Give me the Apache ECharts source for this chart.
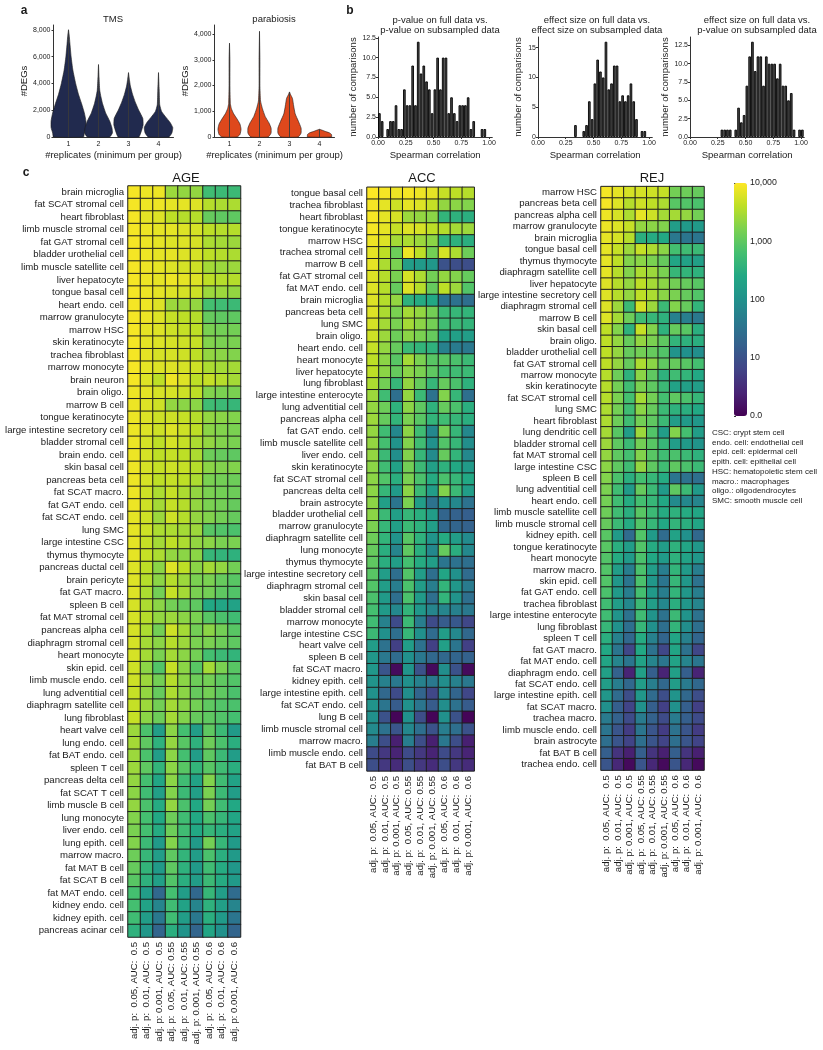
<!DOCTYPE html>
<html>
<head>
<meta charset="utf-8">
<script src="https://cdn.jsdelivr.net/npm/echarts@6/dist/echarts.min.js"></script>
<style>
html, body { margin: 0; padding: 0; background: #fff; }
#chart { width: 823px; height: 1050px; }
</style>
</head>
<body>
<div id="chart"></div>
<script>
// ---- panel a: violins, outline as [#DEGs, relative half-width] ----
const replicates = ['1', '2', '3', '4'];
const tmsViolins = [
  [[0, 0.86], [300, 0.91], [700, 1], [1200, 1], [1800, 0.91], [2500, 0.75], [3200, 0.57], [4000, 0.41], [5000, 0.25], [6000, 0.15], [7000, 0.08], [7600, 0.04], [8000, 0]],
  [[0, 0.64], [300, 0.8], [700, 0.77], [1200, 0.64], [1800, 0.41], [2500, 0.23], [3000, 0.14], [3500, 0.07], [4500, 0.03], [5400, 0]],
  [[0, 0.59], [400, 0.73], [900, 0.84], [1400, 0.82], [2000, 0.59], [2600, 0.39], [3200, 0.23], [3800, 0.11], [4300, 0.05], [4800, 0]],
  [[0, 0.59], [300, 0.77], [700, 0.82], [1100, 0.66], [1500, 0.41], [1900, 0.18], [2400, 0.07], [3500, 0.04], [4800, 0]]
];
const parabiosisViolins = [
  [[0, 0.36], [100, 0.5], [300, 0.55], [500, 0.5], [700, 0.36], [900, 0.2], [1100, 0.09], [1300, 0.04], [2000, 0.02], [3000, 0.02], [3640, 0]],
  [[0, 0.41], [150, 0.55], [350, 0.55], [550, 0.45], [800, 0.27], [1100, 0.14], [1400, 0.05], [2000, 0.02], [3000, 0.02], [4100, 0]],
  [[0, 0.41], [150, 0.55], [350, 0.55], [600, 0.43], [900, 0.27], [1200, 0.2], [1500, 0.14], [1650, 0.05], [1750, 0]],
  [[0, 0.57], [100, 0.57], [160, 0.48], [210, 0.3], [260, 0.14], [300, 0]]
];

// ---- panel b: histogram counts, bins of 0.025 starting at 0 ----
const binWidth = 0.025;
const pvalPvalCounts = [3, 2, 0, 1, 2, 2, 4, 1, 1, 6, 4, 4, 9, 4, 12, 8, 9, 7, 6, 3, 6, 10, 6, 10, 10, 3, 5, 3, 2, 4, 4, 4, 5, 1, 2, 0, 0, 1, 1, 0, 0];
const effEffCounts = [0, 0, 0, 0, 0, 0, 0, 0, 0, 0, 0, 0, 0, 2, 0, 0, 1, 2, 6, 3, 9, 13, 11, 10, 16, 8, 9, 12, 12, 6, 7, 6, 7, 9, 6, 3, 0, 1, 1, 0, 0];
const effPvalCounts = [0, 0, 0, 0, 0, 0, 0, 0, 0, 0, 0, 1, 1, 1, 1, 0, 1, 4, 2, 3, 7, 11, 13, 9, 11, 11, 7, 11, 10, 10, 10, 8, 10, 7, 7, 5, 6, 1, 0, 1, 1];
const corrTicks = ['0.00', '0.25', '0.50', '0.75', '1.00'];

// ---- panel c: heatmaps, values are log10(#DEGs) ----
const pValues = ['0.05', '0.01', '0.001'];
const aucValues = ['0.5', '0.55', '0.6'];
const colorbarLabels = ['0.0', '10', '100', '1,000', '10,000'];

const ageCells = ['brain microglia', 'fat SCAT stromal cell', 'heart fibroblast', 'limb muscle stromal cell', 'fat GAT stromal cell', 'bladder urothelial cell', 'limb muscle satellite cell', 'liver hepatocyte', 'tongue basal cell', 'heart endo. cell', 'marrow granulocyte', 'marrow HSC', 'skin keratinocyte', 'trachea fibroblast', 'marrow monocyte', 'brain neuron', 'brain oligo.', 'marrow B cell', 'tongue keratinocyte', 'large intestine secretory cell', 'bladder stromal cell', 'brain endo. cell', 'skin basal cell', 'pancreas beta cell', 'fat SCAT macro.', 'fat GAT endo. cell', 'fat SCAT endo. cell', 'lung SMC', 'large intestine CSC', 'thymus thymocyte', 'pancreas ductal cell', 'brain pericyte', 'fat GAT macro.', 'spleen B cell', 'fat MAT stromal cell', 'pancreas alpha cell', 'diaphragm stromal cell', 'heart monocyte', 'skin epid. cell', 'limb muscle endo. cell', 'lung adventitial cell', 'diaphragm satellite cell', 'lung fibroblast', 'heart valve cell', 'lung endo. cell', 'fat BAT endo. cell', 'spleen T cell', 'pancreas delta cell', 'fat SCAT T cell', 'limb muscle B cell', 'lung monocyte', 'liver endo. cell', 'lung epith. cell', 'marrow macro.', 'fat MAT B cell', 'fat SCAT B cell', 'fat MAT endo. cell', 'kidney endo. cell', 'kidney epith. cell', 'pancreas acinar cell'];
const ageLog = [
  [3.95, 3.9, 3.9, 3.4, 3.35, 3.35, 2.75, 2.7, 2.7],
  [3.95, 3.9, 3.9, 3.85, 3.85, 3.8, 3.55, 3.5, 3.5],
  [3.95, 3.85, 3.8, 3.6, 3.55, 3.55, 3.05, 3.0, 3.0],
  [3.95, 3.9, 3.85, 3.85, 3.8, 3.75, 3.6, 3.55, 3.55],
  [3.95, 3.9, 3.85, 3.8, 3.8, 3.75, 3.5, 3.45, 3.4],
  [3.95, 3.9, 3.85, 3.85, 3.8, 3.75, 3.6, 3.55, 3.5],
  [3.95, 3.9, 3.85, 3.8, 3.75, 3.7, 3.45, 3.4, 3.4],
  [3.95, 3.9, 3.85, 3.9, 3.85, 3.8, 3.6, 3.55, 3.55],
  [3.95, 3.9, 3.85, 3.8, 3.75, 3.7, 3.4, 3.4, 3.35],
  [3.95, 3.9, 3.8, 3.4, 3.4, 3.35, 2.8, 2.75, 2.7],
  [3.95, 3.9, 3.8, 3.65, 3.6, 3.55, 3.05, 3.0, 3.0],
  [3.95, 3.85, 3.8, 3.7, 3.65, 3.6, 3.2, 3.15, 3.15],
  [3.95, 3.85, 3.8, 3.75, 3.7, 3.65, 3.25, 3.2, 3.2],
  [3.95, 3.85, 3.75, 3.75, 3.7, 3.6, 3.35, 3.3, 3.25],
  [3.95, 3.85, 3.8, 3.8, 3.75, 3.7, 3.5, 3.45, 3.45],
  [3.95, 3.8, 3.6, 3.9, 3.8, 3.6, 3.65, 3.55, 3.45],
  [3.9, 3.85, 3.75, 3.75, 3.7, 3.6, 3.25, 3.2, 3.2],
  [3.9, 3.8, 3.7, 3.35, 3.3, 3.3, 2.75, 2.7, 2.65],
  [3.9, 3.8, 3.7, 3.7, 3.65, 3.55, 3.35, 3.3, 3.25],
  [3.9, 3.8, 3.7, 3.8, 3.7, 3.6, 3.3, 3.25, 3.2],
  [3.9, 3.75, 3.6, 3.75, 3.65, 3.5, 3.35, 3.25, 3.2],
  [3.9, 3.75, 3.6, 3.65, 3.6, 3.5, 3.1, 3.05, 3.0],
  [3.9, 3.75, 3.65, 3.7, 3.65, 3.55, 3.3, 3.25, 3.25],
  [3.9, 3.75, 3.6, 3.65, 3.6, 3.5, 3.2, 3.15, 3.1],
  [3.9, 3.7, 3.5, 3.65, 3.5, 3.35, 3.2, 3.15, 3.1],
  [3.9, 3.7, 3.45, 3.65, 3.55, 3.35, 3.2, 3.15, 3.05],
  [3.85, 3.7, 3.4, 3.7, 3.55, 3.35, 3.25, 3.15, 3.05],
  [3.85, 3.7, 3.5, 3.5, 3.45, 3.4, 2.95, 2.9, 2.85],
  [3.85, 3.65, 3.45, 3.6, 3.5, 3.35, 3.3, 3.2, 3.2],
  [3.85, 3.65, 3.5, 3.35, 3.3, 3.3, 2.65, 2.6, 2.55],
  [3.8, 3.6, 3.3, 3.8, 3.6, 3.3, 3.45, 3.35, 3.15],
  [3.8, 3.55, 3.3, 3.55, 3.4, 3.2, 3.2, 3.05, 2.95],
  [3.8, 3.5, 3.15, 3.65, 3.45, 3.2, 3.15, 3.0, 2.9],
  [3.75, 3.5, 3.3, 3.15, 3.05, 3.0, 2.4, 2.35, 2.3],
  [3.75, 3.55, 3.35, 3.4, 3.3, 3.2, 2.95, 2.85, 2.75],
  [3.75, 3.5, 3.15, 3.7, 3.45, 3.15, 3.3, 3.15, 2.95],
  [3.75, 3.45, 3.3, 3.55, 3.4, 3.2, 3.2, 3.1, 3.0],
  [3.75, 3.45, 3.2, 3.45, 3.3, 3.15, 2.8, 2.7, 2.6],
  [3.7, 3.3, 2.9, 3.65, 3.3, 2.95, 3.45, 3.2, 2.95],
  [3.7, 3.4, 3.15, 3.55, 3.3, 3.1, 3.15, 3.0, 2.9],
  [3.65, 3.35, 3.05, 3.5, 3.3, 3.05, 3.15, 3.0, 2.85],
  [3.65, 3.4, 3.15, 3.45, 3.3, 3.15, 3.0, 2.9, 2.85],
  [3.65, 3.3, 3.1, 3.45, 3.25, 3.05, 3.0, 2.9, 2.8],
  [3.4, 2.85, 2.2, 3.3, 2.8, 2.2, 3.0, 2.7, 2.15],
  [3.45, 3.0, 2.55, 3.35, 2.95, 2.55, 3.1, 2.85, 2.5],
  [3.4, 2.85, 2.2, 3.3, 2.8, 2.2, 3.0, 2.7, 2.2],
  [3.4, 3.0, 2.6, 3.3, 2.95, 2.6, 2.95, 2.75, 2.5],
  [3.35, 2.8, 2.35, 3.3, 2.75, 2.3, 3.25, 2.75, 2.3],
  [3.3, 2.75, 2.25, 3.25, 2.7, 2.25, 3.2, 2.7, 2.2],
  [3.35, 2.85, 2.45, 3.35, 2.85, 2.4, 3.15, 2.75, 2.4],
  [3.25, 2.8, 2.4, 3.1, 2.75, 2.4, 2.85, 2.65, 2.35],
  [3.2, 2.8, 2.45, 3.1, 2.75, 2.4, 2.65, 2.5, 2.3],
  [3.25, 2.7, 2.15, 3.25, 2.7, 2.15, 3.15, 2.65, 2.15],
  [3.1, 2.65, 2.2, 3.0, 2.6, 2.2, 2.85, 2.5, 2.15],
  [3.05, 2.6, 2.15, 3.0, 2.55, 2.15, 2.75, 2.45, 2.1],
  [2.95, 2.55, 2.25, 2.9, 2.5, 2.2, 2.7, 2.45, 2.15],
  [2.8, 2.2, 1.35, 2.8, 2.2, 1.35, 2.65, 2.2, 1.4],
  [2.8, 2.3, 1.8, 2.75, 2.3, 1.8, 2.55, 2.25, 1.8],
  [2.75, 2.2, 1.6, 2.75, 2.2, 1.6, 2.5, 2.15, 1.55],
  [2.55, 2.1, 1.3, 2.5, 2.05, 1.3, 2.35, 2.0, 1.3]
];

const accCells = ['tongue basal cell', 'trachea fibroblast', 'heart fibroblast', 'tongue keratinocyte', 'marrow HSC', 'trachea stromal cell', 'marrow B cell', 'fat GAT stromal cell', 'fat MAT endo. cell', 'brain microglia', 'pancreas beta cell', 'lung SMC', 'brain oligo.', 'heart endo. cell', 'heart monocyte', 'liver hepatocyte', 'lung fibroblast', 'large intestine enterocyte', 'lung adventitial cell', 'pancreas alpha cell', 'fat GAT endo. cell', 'limb muscle satellite cell', 'liver endo. cell', 'skin keratinocyte', 'fat SCAT stromal cell', 'pancreas delta cell', 'brain astrocyte', 'bladder urothelial cell', 'marrow granulocyte', 'diaphragm satellite cell', 'lung monocyte', 'thymus thymocyte', 'large intestine secretory cell', 'diaphragm stromal cell', 'skin basal cell', 'bladder stromal cell', 'marrow monocyte', 'large intestine CSC', 'heart valve cell', 'spleen B cell', 'fat SCAT macro.', 'kidney epith. cell', 'large intestine epith. cell', 'fat SCAT endo. cell', 'lung B cell', 'limb muscle stromal cell', 'marrow macro.', 'limb muscle endo. cell', 'fat BAT B cell'];
const accLog = [
  [4.0, 3.95, 3.9, 3.95, 3.9, 3.85, 3.65, 3.6, 3.55],
  [3.95, 3.85, 3.7, 3.85, 3.8, 3.65, 3.35, 3.3, 3.25],
  [3.95, 3.85, 3.75, 3.4, 3.35, 3.3, 2.6, 2.55, 2.5],
  [3.95, 3.85, 3.65, 3.8, 3.75, 3.6, 3.55, 3.45, 3.4],
  [3.9, 3.8, 3.45, 3.5, 3.4, 3.3, 2.6, 2.55, 2.5],
  [3.85, 3.6, 3.1, 3.9, 3.6, 3.15, 3.75, 3.5, 3.1],
  [3.85, 3.5, 3.2, 2.2, 2.15, 2.1, 1.0, 0.95, 0.95],
  [3.8, 3.55, 3.2, 3.75, 3.5, 3.15, 3.35, 3.25, 3.05],
  [3.8, 3.55, 3.05, 3.8, 3.55, 3.05, 3.6, 3.4, 2.9],
  [3.8, 3.55, 3.35, 2.55, 2.45, 2.4, 1.55, 1.5, 1.45],
  [3.8, 3.5, 3.2, 3.45, 3.35, 3.15, 2.7, 2.65, 2.6],
  [3.75, 3.45, 3.2, 3.45, 3.3, 3.15, 2.75, 2.7, 2.6],
  [3.7, 3.4, 3.1, 3.3, 3.2, 3.05, 2.3, 2.25, 2.2],
  [3.65, 3.35, 3.05, 2.7, 2.6, 2.55, 1.75, 1.65, 1.6],
  [3.6, 3.3, 2.95, 3.45, 3.2, 2.95, 2.95, 2.85, 2.7],
  [3.6, 3.3, 3.05, 3.3, 3.2, 3.0, 2.8, 2.75, 2.7],
  [3.5, 3.15, 2.65, 3.35, 3.05, 2.65, 3.05, 2.85, 2.55],
  [3.4, 2.75, 1.45, 3.35, 2.7, 1.5, 3.25, 2.65, 1.45],
  [3.35, 3.1, 2.55, 3.3, 3.0, 2.55, 3.05, 2.85, 2.5],
  [3.4, 3.05, 2.6, 3.2, 2.95, 2.6, 2.75, 2.65, 2.5],
  [3.35, 2.75, 1.85, 3.3, 2.75, 1.85, 3.15, 2.65, 1.85],
  [3.35, 2.8, 2.05, 3.25, 2.75, 2.0, 2.9, 2.65, 1.95],
  [3.35, 2.7, 1.95, 3.25, 2.65, 1.9, 3.05, 2.6, 1.85],
  [3.3, 2.75, 2.3, 3.15, 2.7, 2.25, 2.55, 2.4, 2.15],
  [3.3, 2.9, 2.5, 3.2, 2.85, 2.45, 2.85, 2.65, 2.4],
  [3.3, 2.65, 2.15, 3.3, 2.7, 2.2, 3.25, 2.7, 2.2],
  [3.3, 2.25, 1.55, 3.2, 2.2, 1.5, 2.0, 1.85, 1.5],
  [3.3, 2.7, 2.25, 2.65, 2.5, 2.2, 1.3, 1.25, 1.2],
  [3.2, 2.65, 2.25, 2.7, 2.55, 2.25, 1.35, 1.3, 1.25],
  [3.1, 2.6, 2.05, 2.95, 2.55, 2.05, 2.45, 2.2, 1.9],
  [3.05, 2.5, 1.8, 3.0, 2.5, 1.85, 3.05, 2.5, 1.85],
  [3.0, 2.5, 2.2, 2.8, 2.45, 2.2, 1.55, 1.5, 1.45],
  [2.95, 2.2, 1.45, 2.9, 2.2, 1.45, 2.35, 2.0, 1.4],
  [2.9, 2.2, 1.7, 2.85, 2.2, 1.7, 2.6, 2.1, 1.65],
  [2.85, 2.15, 1.45, 2.85, 2.15, 1.45, 2.6, 2.05, 1.45],
  [2.8, 2.15, 1.85, 2.6, 2.1, 1.8, 1.8, 1.75, 1.6],
  [2.75, 1.75, 0.9, 2.7, 1.7, 0.9, 1.15, 1.1, 0.85],
  [2.7, 2.0, 1.45, 2.65, 2.0, 1.4, 2.2, 1.85, 1.35],
  [2.2, 1.5, 0.75, 2.2, 1.5, 0.75, 2.25, 1.55, 0.75],
  [2.1, 1.6, 1.4, 2.0, 1.6, 1.35, 1.35, 1.3, 1.25],
  [2.1, 1.05, 0.1, 2.05, 1.0, 0.1, 1.95, 1.0, 0.1],
  [2.05, 1.75, 1.6, 2.0, 1.75, 1.6, 1.95, 1.75, 1.6],
  [2.0, 1.35, 0.9, 1.95, 1.3, 0.85, 1.85, 1.3, 0.85],
  [2.05, 1.55, 1.15, 2.0, 1.55, 1.15, 1.95, 1.5, 1.15],
  [2.0, 1.0, 0.05, 2.0, 0.95, 0.05, 2.0, 1.0, 0.05],
  [1.9, 1.5, 1.05, 1.85, 1.45, 1.0, 1.7, 1.45, 1.0],
  [1.7, 0.95, 0.35, 1.7, 0.95, 0.35, 1.6, 0.95, 0.35],
  [0.9, 0.65, 0.4, 0.9, 0.65, 0.4, 0.9, 0.65, 0.4],
  [0.95, 0.65, 0.5, 0.95, 0.65, 0.5, 0.95, 0.65, 0.5]
];

const rejCells = ['marrow HSC', 'pancreas beta cell', 'pancreas alpha cell', 'marrow granulocyte', 'brain microglia', 'tongue basal cell', 'thymus thymocyte', 'diaphragm satellite cell', 'liver hepatocyte', 'large intestine secretory cell', 'diaphragm stromal cell', 'marrow B cell', 'skin basal cell', 'brain oligo.', 'bladder urothelial cell', 'fat GAT stromal cell', 'marrow monocyte', 'skin keratinocyte', 'fat SCAT stromal cell', 'lung SMC', 'heart fibroblast', 'lung dendritic cell', 'bladder stromal cell', 'fat MAT stromal cell', 'large intestine CSC', 'spleen B cell', 'lung adventitial cell', 'heart endo. cell', 'limb muscle satellite cell', 'limb muscle stromal cell', 'kidney epith. cell', 'tongue keratinocyte', 'heart monocyte', 'marrow macro.', 'skin epid. cell', 'fat GAT endo. cell', 'trachea fibroblast', 'large intestine enterocyte', 'lung fibroblast', 'spleen T cell', 'fat GAT macro.', 'fat MAT endo. cell', 'diaphragm endo. cell', 'fat SCAT endo. cell', 'large intestine epith. cell', 'fat SCAT macro.', 'trachea macro.', 'limb muscle endo. cell', 'brain astrocyte', 'fat BAT B cell', 'trachea endo. cell'];
const rejLog = [
  [3.95, 3.85, 3.75, 3.75, 3.7, 3.65, 3.15, 3.1, 3.05],
  [3.95, 3.8, 3.55, 3.7, 3.6, 3.5, 2.95, 2.9, 2.85],
  [3.9, 3.75, 3.5, 3.85, 3.7, 3.45, 3.45, 3.35, 3.15],
  [3.9, 3.8, 3.65, 3.35, 3.3, 3.25, 2.2, 2.15, 2.15],
  [3.85, 3.75, 3.55, 2.5, 2.45, 2.4, 1.6, 1.55, 1.55],
  [3.85, 3.65, 3.4, 3.65, 3.5, 3.3, 2.8, 2.75, 2.7],
  [3.85, 3.6, 3.25, 3.3, 3.2, 3.05, 2.35, 2.3, 2.25],
  [3.85, 3.55, 3.25, 3.5, 3.4, 3.2, 2.65, 2.6, 2.55],
  [3.8, 3.55, 3.35, 3.6, 3.45, 3.3, 3.15, 3.05, 2.95],
  [3.8, 3.55, 3.35, 3.6, 3.5, 3.3, 3.2, 3.05, 2.9],
  [3.8, 3.4, 2.7, 3.75, 3.4, 2.7, 3.25, 3.05, 2.6],
  [3.8, 3.45, 3.1, 2.75, 2.65, 2.55, 1.75, 1.7, 1.6],
  [3.6, 3.25, 2.55, 3.65, 3.25, 2.55, 3.05, 2.95, 2.5],
  [3.6, 3.35, 3.05, 3.35, 3.2, 3.0, 2.6, 2.55, 2.5],
  [3.6, 3.35, 3.05, 3.15, 3.05, 2.9, 2.05, 2.0, 1.95],
  [3.6, 3.35, 3.05, 3.5, 3.3, 3.0, 3.05, 2.95, 2.8],
  [3.55, 3.1, 2.55, 3.3, 3.0, 2.55, 2.75, 2.6, 2.4],
  [3.55, 3.15, 2.75, 3.2, 3.0, 2.7, 2.3, 2.25, 2.2],
  [3.55, 3.2, 2.8, 3.45, 3.15, 2.8, 3.0, 2.85, 2.65],
  [3.5, 3.15, 2.75, 3.3, 3.05, 2.7, 2.55, 2.5, 2.4],
  [3.5, 3.1, 2.75, 3.15, 3.0, 2.7, 2.2, 2.15, 2.1],
  [3.45, 2.95, 2.2, 3.4, 2.9, 2.2, 3.25, 2.8, 2.2],
  [3.4, 3.0, 2.7, 3.15, 2.95, 2.65, 2.2, 2.15, 2.05],
  [3.35, 3.0, 2.8, 3.25, 2.95, 2.75, 2.85, 2.7, 2.55],
  [3.3, 3.0, 2.75, 3.35, 3.0, 2.75, 3.0, 2.85, 2.7],
  [3.25, 2.85, 2.5, 2.8, 2.65, 2.45, 1.55, 1.5, 1.45],
  [3.2, 2.75, 2.15, 3.05, 2.7, 2.15, 3.0, 2.7, 2.15],
  [3.15, 2.75, 2.45, 2.8, 2.65, 2.4, 1.9, 1.85, 1.8],
  [3.1, 2.75, 2.5, 2.95, 2.7, 2.45, 2.55, 2.45, 2.35],
  [3.05, 2.7, 2.45, 2.9, 2.65, 2.4, 2.6, 2.5, 2.35],
  [2.95, 2.15, 1.4, 2.9, 2.15, 1.4, 2.3, 2.0, 1.35],
  [2.95, 2.5, 2.2, 2.9, 2.45, 2.2, 2.55, 2.35, 2.1],
  [2.9, 2.45, 2.15, 2.85, 2.4, 2.15, 2.55, 2.3, 2.1],
  [2.9, 2.2, 1.7, 2.85, 2.2, 1.7, 2.6, 2.15, 1.7],
  [2.9, 2.1, 1.55, 2.85, 2.1, 1.55, 2.65, 2.1, 1.5],
  [2.85, 2.15, 1.7, 2.8, 2.15, 1.7, 2.6, 2.1, 1.7],
  [2.75, 2.2, 1.85, 2.7, 2.2, 1.85, 2.5, 2.1, 1.8],
  [2.75, 2.05, 1.5, 2.75, 2.05, 1.5, 2.7, 2.05, 1.5],
  [2.65, 2.0, 1.45, 2.65, 2.0, 1.45, 2.6, 1.95, 1.45],
  [2.5, 1.75, 1.35, 2.45, 1.75, 1.3, 2.35, 1.75, 1.3],
  [2.4, 1.55, 0.85, 2.4, 1.5, 0.85, 2.35, 1.5, 0.85],
  [2.35, 1.8, 1.55, 2.3, 1.8, 1.55, 2.3, 1.8, 1.55],
  [2.25, 1.25, 0.4, 2.25, 1.2, 0.4, 2.25, 1.2, 0.4],
  [2.2, 1.7, 1.35, 2.2, 1.7, 1.35, 2.2, 1.65, 1.35],
  [2.1, 1.4, 0.95, 2.1, 1.4, 0.95, 2.05, 1.35, 0.95],
  [2.0, 1.2, 0.8, 2.0, 1.2, 0.75, 2.0, 1.2, 0.75],
  [1.65, 1.25, 0.9, 1.65, 1.25, 0.9, 1.65, 1.2, 0.9],
  [1.55, 1.05, 0.7, 1.55, 1.05, 0.7, 1.5, 1.05, 0.7],
  [1.45, 1.05, 0.8, 1.45, 1.05, 0.8, 1.45, 1.05, 0.8],
  [1.2, 0.6, 0.35, 1.2, 0.6, 0.35, 1.2, 0.6, 0.35],
  [1.05, 0.45, 0.1, 1.05, 0.45, 0.1, 1.05, 0.45, 0.1]
];

const abbreviations = [
  'CSC: crypt stem cell',
  'endo. cell: endothelial cell',
  'epid. cell: epidermal cell',
  'epith. cell: epithelial cell',
  'HSC: hematopoietic stem cell',
  'macro.: macrophages',
  'oligo.: oligodendrocytes',
  'SMC: smooth muscle cell'
];

// ---------------------------------------------------------------
const FONT = '"Liberation Sans", Arial, Helvetica, sans-serif';
const INK = '#1a1a1a';
const viridis = ['#440154', '#482475', '#414487', '#355f8d', '#2a788e', '#21918c', '#22a884', '#44bf70', '#7ad151', '#bddf26', '#fde725'];

const thresholdLabels = [];
aucValues.forEach(a => pValues.forEach(p => {
  thresholdLabels.push('adj. p: ' + p.padStart(5, ' ') + ', AUC: ' + a.padStart(4, ' '));
}));

const chart = echarts.init(document.getElementById('chart'), null, { renderer: 'canvas' });

// grid boxes
const grids = [
  { left: 53.5, top: 25, width: 120, height: 112 },   // 0 TMS
  { left: 214.5, top: 25, width: 120, height: 112 },  // 1 parabiosis
  { left: 378, top: 37, width: 114.3, height: 100 },  // 2 hist p/p
  { left: 538, top: 37, width: 114.3, height: 100 },  // 3 hist es/es
  { left: 690, top: 37, width: 114.3, height: 100 },  // 4 hist es/p
  { left: 128, top: 186, width: 112.5, height: 751 }, // 5 AGE
  { left: 367, top: 187.3, width: 107.2, height: 583.6 }, // 6 ACC
  { left: 601, top: 186.6, width: 103, height: 583.5 },   // 7 REJ
  { left: 734, top: 183, width: 13, height: 233 }     // 8 colorbar
].map(g => Object.assign({ outerBoundsMode: 'none', containLabel: false }, g));

const tickFont = { fontSize: 7, color: INK, fontFamily: FONT };
const nameFont = { fontSize: 9.5, color: INK, fontFamily: FONT };
const spine = { show: true, lineStyle: { color: '#333', width: 1 } };
const smallTick = { show: true, length: 2, lineStyle: { color: '#333' } };

function violinX(gi) {
  return {
    gridIndex: gi, type: 'category', data: replicates, boundaryGap: true,
    axisLine: spine, axisTick: { show: false },
    axisLabel: Object.assign({ margin: 4 }, tickFont),
    name: '#replicates (minimum per group)', nameLocation: 'middle', nameGap: 13, nameTextStyle: nameFont
  };
}
function violinY(gi, max, interval) {
  return {
    gridIndex: gi, type: 'value', min: 0, max: max, interval: interval,
    axisLine: spine, axisTick: smallTick, splitLine: { show: false },
    axisLabel: Object.assign({ margin: 3, showMaxLabel: false, formatter: v => v.toLocaleString('en-US') }, tickFont),
    name: '#DEGs', nameLocation: 'middle', nameGap: 24, nameTextStyle: nameFont
  };
}
function histX(gi) {
  return {
    gridIndex: gi, type: 'value', min: 0, max: 1.03, interval: 0.25,
    axisLine: spine, axisTick: smallTick, splitLine: { show: false },
    axisLabel: Object.assign({ margin: 3, showMaxLabel: false, formatter: v => corrTicks[Math.round(v / 0.25)] || '' }, tickFont),
    name: 'Spearman correlation', nameLocation: 'middle', nameGap: 13, nameTextStyle: nameFont
  };
}
function histY(gi, max, interval, digits, gap) {
  return {
    gridIndex: gi, type: 'value', min: 0, max: max, interval: interval,
    axisLine: spine, axisTick: smallTick, splitLine: { show: false },
    axisLabel: Object.assign({ margin: 2, showMaxLabel: false, formatter: v => v.toFixed(digits) }, tickFont),
    name: 'number of comparisons', nameLocation: 'middle', nameGap: gap, nameTextStyle: nameFont
  };
}
function heatX(gi) {
  return {
    gridIndex: gi, type: 'category', data: thresholdLabels, position: 'bottom',
    axisLine: { show: false }, axisTick: { show: false }, splitArea: { show: false },
    axisLabel: { interval: 0, rotate: 90, margin: 5, fontSize: 9.6, color: INK, fontFamily: FONT }
  };
}
function heatY(gi, rows) {
  return {
    gridIndex: gi, type: 'category', data: rows, inverse: true,
    axisLine: { show: false }, axisTick: { show: false }, splitArea: { show: false },
    axisLabel: { interval: 0, margin: 4, fontSize: 9.6, color: INK, fontFamily: FONT }
  };
}

// widthScale: fraction of the category band used as the widest half-width
function violinSeries(gi, profiles, color, widthScale) {
  return {
    type: 'custom', xAxisIndex: gi, yAxisIndex: gi, silent: true,
    data: profiles.map((p, i) => [i, p[p.length - 1][0]]),
    renderItem: (params, api) => {
      const idx = api.value(0);
      const prof = profiles[idx];
      const half = api.size([1, 0])[0] * widthScale;
      const right = [], left = [];
      prof.forEach(([v, w]) => {
        const pt = api.coord([idx, v]);
        right.push([pt[0] + w * half, pt[1]]);
        left.unshift([pt[0] - w * half, pt[1]]);
      });
      const base = api.coord([idx, 0]);
      const top = api.coord([idx, prof[prof.length - 1][0]]);
      return {
        type: 'group', children: [
          { type: 'polygon', shape: { points: right.concat(left), smooth: 0.15 }, style: { fill: color, stroke: '#1b1b1b', lineWidth: 0.6 } },
          { type: 'line', shape: { x1: base[0], y1: base[1], x2: top[0], y2: top[1] }, style: { stroke: '#3a3a3a', lineWidth: 0.9 } }
        ]
      };
    }
  };
}

function histSeries(gi, counts) {
  const data = [];
  counts.forEach((c, i) => { if (c > 0) data.push([(i + 0.5) * binWidth, c]); });
  return {
    type: 'bar', xAxisIndex: gi, yAxisIndex: gi, data: data, barWidth: 2.6, silent: true,
    itemStyle: { color: '#4a4a4a', borderColor: '#000', borderWidth: 0.9 }
  };
}

function heatSeries(gi, values) {
  const data = [];
  values.forEach((row, r) => row.forEach((v, c) => data.push([c, r, v])));
  return {
    type: 'heatmap', xAxisIndex: gi, yAxisIndex: gi, data: data, silent: true,
    itemStyle: { borderColor: '#1e1e1e', borderWidth: 1 },
    emphasis: { disabled: true }
  };
}

function title(text, x, y, size, weight, extra) {
  return Object.assign({
    text: text, left: x, top: y, textAlign: 'center', padding: 0,
    textStyle: { fontSize: size, fontWeight: weight || 'normal', color: INK, fontFamily: FONT, lineHeight: size * 1.1 }
  }, extra || {});
}

const option = {
  animation: false,
  backgroundColor: '#fff',
  textStyle: { fontFamily: FONT },
  title: [
    title('a', 24, 4, 12, 'bold'),
    title('b', 350, 4, 12, 'bold'),
    title('c', 26, 166, 12, 'bold'),
    title('TMS', 113, 14, 9.5),
    title('parabiosis', 274, 14, 9.5),
    title('p-value on full data vs.\np-value on subsampled data', 440, 15, 9.5),
    title('effect size on full data vs.\neffect size on subsampled data', 597, 15, 9.5),
    title('effect size on full data vs.\np-value on subsampled data', 757, 15, 9.5),
    title('AGE', 186, 171, 13),
    title('ACC', 422, 171, 13),
    title('REJ', 652, 171, 13)
  ],
  grid: grids,
  xAxis: [
    violinX(0), violinX(1),
    histX(2), histX(3), histX(4),
    heatX(5), heatX(6), heatX(7),
    { gridIndex: 8, type: 'value', show: false, min: 0, max: 1 }
  ],
  yAxis: [
    violinY(0, 8360, 2000), violinY(1, 4350, 1000),
    histY(2, 12.6, 2.5, 1, 9), histY(3, 16.8, 5, 0, 15), histY(4, 13.65, 2.5, 1, 17),
    heatY(5, ageCells), heatY(6, accCells), heatY(7, rejCells),
    {
      gridIndex: 8, type: 'value', min: 0, max: 4, interval: 1, position: 'right',
      axisLine: { show: false }, splitLine: { show: false },
      axisTick: { show: true, length: 2, lineStyle: { color: '#333' } },
      axisLabel: { margin: 3, fontSize: 8.8, color: INK, fontFamily: FONT, formatter: v => colorbarLabels[Math.round(v)] }
    }
  ],
  visualMap: {
    type: 'continuous', min: 0, max: 4, seriesIndex: [5, 6, 7],
    calculable: false, orient: 'vertical', left: 734, top: 183,
    itemWidth: 13, itemHeight: 233, padding: 0, hoverLink: false,
    inRange: { color: viridis }
  },
  graphic: [{
    type: 'text', left: 712, top: 428, silent: true,
    style: { text: abbreviations.join('\n'), fontSize: 8, lineHeight: 9.7, fill: INK, fontFamily: FONT }
  }],
  series: [
    violinSeries(0, tmsViolins, '#212a4e', 0.58),
    violinSeries(1, parabiosisViolins, '#de481c', 0.7),
    histSeries(2, pvalPvalCounts),
    histSeries(3, effEffCounts),
    histSeries(4, effPvalCounts),
    heatSeries(5, ageLog),
    heatSeries(6, accLog),
    heatSeries(7, rejLog),
    { type: 'scatter', xAxisIndex: 8, yAxisIndex: 8, data: [], silent: true }
  ]
};

chart.setOption(option);
</script>
</body>
</html>
